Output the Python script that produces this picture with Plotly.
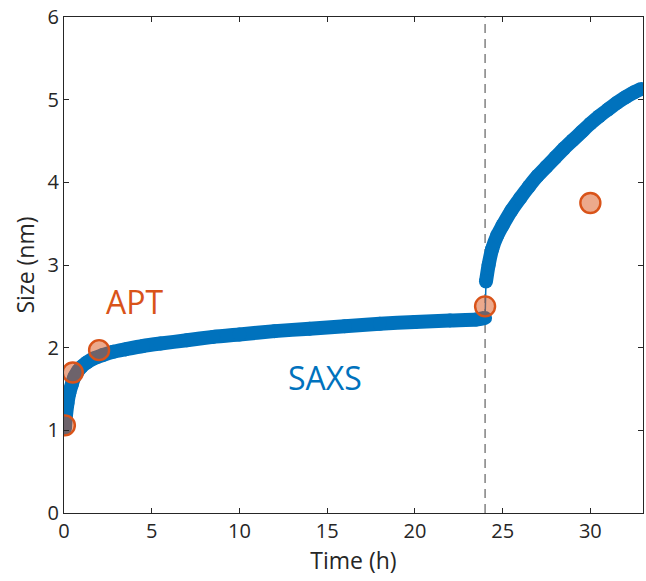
import plotly.graph_objects as go

# SAXS size vs time (h)
saxs_time_growth = [0.05, 0.1, 0.2, 0.3, 0.45, 0.6, 0.8, 1.0, 1.3, 1.7, 2.2, 2.8, 3.5, 4.5, 5.5,
                    7.0, 8.5, 10.0, 12.0, 14.0, 16.0, 18.0, 20.0, 22.0, 23.5, 24.0]
saxs_size_growth = [1.02, 1.15, 1.33, 1.45, 1.56, 1.65, 1.72, 1.77, 1.82, 1.87, 1.91, 1.95, 1.98, 2.02, 2.05,
                    2.09, 2.13, 2.16, 2.20, 2.23, 2.26, 2.29, 2.31, 2.33, 2.34, 2.36]
saxs_time_heat = [24.05, 24.2, 24.4, 24.7, 25.0, 25.5, 26.0, 26.5, 27.0, 27.5, 28.0, 28.5, 29.0,
                  29.5, 30.0, 30.5, 31.0, 31.5, 32.0, 32.5, 32.9]
saxs_size_heat = [2.80, 3.00, 3.19, 3.36, 3.48, 3.66, 3.81, 3.95, 4.08, 4.19, 4.30, 4.41, 4.51,
                  4.61, 4.71, 4.80, 4.88, 4.96, 5.03, 5.09, 5.13]

# APT points
apt_time = [0.05, 0.5, 2.0, 24.0, 30.0]
apt_size = [1.06, 1.70, 1.97, 2.50, 3.75]

# Temperature change marker
switch_time = 24

x_ticks = [0, 5, 10, 15, 20, 25, 30]
y_ticks = [0, 1, 2, 3, 4, 5, 6]

BLUE = "#0072BD"
ORANGE = "#D95319"
AXIS = "#262626"
FONT = "Open Sans"

fig = go.Figure()

# thin connector across the jump
fig.add_trace(go.Scatter(
    x=[saxs_time_growth[-1], saxs_time_heat[0]],
    y=[saxs_size_growth[-1], saxs_size_heat[0]],
    mode="lines", line=dict(color=BLUE, width=1.5), showlegend=False, hoverinfo="skip"))

for xs, ys in [(saxs_time_growth, saxs_size_growth), (saxs_time_heat, saxs_size_heat)]:
    fig.add_trace(go.Scatter(
        x=xs, y=ys, mode="lines+markers",
        line=dict(color=BLUE, width=14, shape="spline", smoothing=0.6),
        marker=dict(color=BLUE, size=14),
        showlegend=False, name="SAXS"))

fig.add_trace(go.Scatter(
    x=apt_time, y=apt_size, mode="markers",
    marker=dict(size=20, color="rgba(217,83,25,0.5)", line=dict(color=ORANGE, width=2.4)),
    showlegend=False, name="APT"))

fig.add_shape(type="line", x0=switch_time, x1=switch_time, y0=0, y1=1, yref="paper",
              line=dict(color="#808080", width=1.5, dash="9px,6px"), layer="below")

fig.add_annotation(x=4.0, y=2.56, text="APT", showarrow=False,
                   font=dict(family=FONT, size=32, color=ORANGE))
fig.add_annotation(x=14.9, y=1.64, text="SAXS", showarrow=False,
                   font=dict(family=FONT, size=32, color=BLUE))

axis_common = dict(showline=True, linecolor=AXIS, linewidth=1, mirror="ticks",
                   ticks="inside", ticklen=5, tickcolor=AXIS, showgrid=False, zeroline=False,
                   automargin=False, tickfont=dict(family=FONT, size=20, color=AXIS))

fig.update_xaxes(range=[0, 33], tickvals=x_ticks, ticktext=[str(v) for v in x_ticks],
                 title=dict(text="Time (h)", font=dict(family=FONT, size=23, color=AXIS), standoff=4),
                 **axis_common)
fig.update_yaxes(range=[0, 6], tickvals=y_ticks, ticktext=[str(v) for v in y_ticks],
                 title=dict(text="Size (nm)", font=dict(family=FONT, size=23, color=AXIS), standoff=6),
                 **axis_common)

fig.update_layout(width=646, height=581, margin=dict(l=64, r=3, t=17, b=68),
                  plot_bgcolor="white", paper_bgcolor="white")

fig.write_html("out.html", config={"displayModeBar": False},
               post_script="document.body.style.margin='0';document.body.style.overflow='hidden';")
